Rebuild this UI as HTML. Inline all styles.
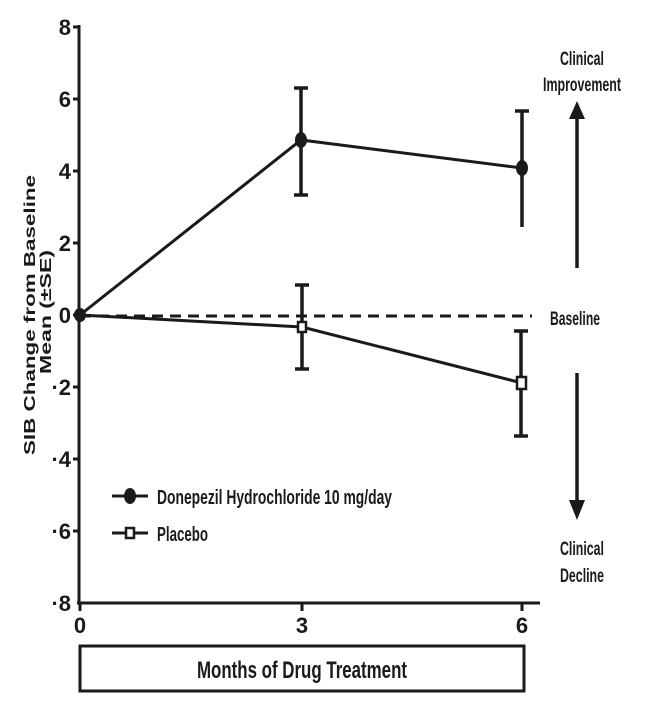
<!DOCTYPE html>
<html><head><meta charset="utf-8"><style>
html,body{margin:0;padding:0;background:#fff;}
svg{display:block;}
text{font-family:"Liberation Sans Narrow","Liberation Sans",sans-serif;font-weight:bold;fill:#1a1a1a;}
</style></head><body>
<svg width="645" height="726" viewBox="0 0 645 726" xmlns="http://www.w3.org/2000/svg">
<g stroke="#1a1a1a" fill="none">
<line x1="79" y1="25" x2="79" y2="604" stroke-width="3"/>
<line x1="77" y1="603" x2="540" y2="603" stroke-width="3"/>
<g stroke-width="3">
<line x1="73" y1="27" x2="79" y2="27"/>
<line x1="73" y1="99" x2="79" y2="99"/>
<line x1="73" y1="171" x2="79" y2="171"/>
<line x1="73" y1="243" x2="79" y2="243"/>
<line x1="73" y1="315" x2="79" y2="315"/>
<line x1="73" y1="387" x2="79" y2="387"/>
<line x1="73" y1="459" x2="79" y2="459"/>
<line x1="73" y1="531" x2="79" y2="531"/>
<line x1="80" y1="603" x2="80" y2="611"/>
<line x1="302" y1="603" x2="302" y2="611"/>
<line x1="522" y1="603" x2="522" y2="611"/>
</g>
<rect x="80" y="646" width="444" height="45" stroke-width="3"/>
<line x1="80" y1="316" x2="532" y2="316" stroke-width="3" stroke-dasharray="11,7"/>
<polyline points="80,315 301,140 522,168" stroke-width="3"/>
<polyline points="80,315 302,327 522,383" stroke-width="3"/>
<g stroke-width="3.5">
<line x1="301" y1="88" x2="301" y2="195"/><line x1="294" y1="88" x2="308" y2="88"/><line x1="294" y1="195" x2="308" y2="195"/>
<line x1="522" y1="111" x2="522" y2="227"/><line x1="515" y1="111" x2="529" y2="111"/>
<line x1="302" y1="285" x2="302" y2="369"/><line x1="295" y1="285" x2="309" y2="285"/><line x1="295" y1="369" x2="309" y2="369"/>
<line x1="521" y1="331" x2="521" y2="436"/><line x1="514" y1="331" x2="528" y2="331"/><line x1="514" y1="436" x2="528" y2="436"/>
</g>
<line x1="112" y1="496" x2="148" y2="496" stroke-width="3"/>
<line x1="112" y1="533" x2="148" y2="533" stroke-width="3"/>
<line x1="577" y1="268" x2="577" y2="115" stroke-width="3.5"/>
<line x1="577" y1="373" x2="577" y2="502" stroke-width="3.5"/>
</g>
<g fill="#1a1a1a">
<ellipse cx="80" cy="315" rx="6" ry="7"/>
<ellipse cx="301" cy="140" rx="6" ry="8"/>
<ellipse cx="522" cy="168" rx="6" ry="8"/>
<ellipse cx="130" cy="496" rx="6" ry="8"/>
<polygon points="577,101 569,119 585,119"/>
<polygon points="577,520 569,500 585,500"/>
</g>
<g fill="#fff" stroke="#1a1a1a" stroke-width="2.5">
<rect x="298" y="322" width="8" height="10"/>
<rect x="517" y="377" width="9" height="12"/>
<rect x="126" y="528" width="8" height="10"/>
</g>
<g font-size="22" text-anchor="end">
<text x="71" y="35">8</text><text x="71" y="107">6</text><text x="71" y="179">4</text><text x="71" y="251">2</text><text x="71" y="323">0</text>
<text x="71" y="395">·2</text><text x="71" y="467">·4</text><text x="71" y="539">·6</text><text x="71" y="611">·8</text>
</g>
<g font-size="22" text-anchor="middle">
<text x="80" y="633">0</text><text x="302" y="633">3</text><text x="522" y="633">6</text>
</g>
<text x="302" y="678" font-size="24" text-anchor="middle" textLength="210" lengthAdjust="spacingAndGlyphs">Months of Drug Treatment</text>
<text x="157" y="504" font-size="20" textLength="235" lengthAdjust="spacingAndGlyphs">Donepezil Hydrochloride 10 mg/day</text>
<text x="157" y="541" font-size="20" textLength="51" lengthAdjust="spacingAndGlyphs">Placebo</text>
<g font-size="19" text-anchor="middle" font-weight="normal">
<text x="582" y="65" textLength="44" lengthAdjust="spacingAndGlyphs">Clinical</text>
<text x="582" y="91" textLength="78" lengthAdjust="spacingAndGlyphs">Improvement</text>
<text x="575" y="325" textLength="50" lengthAdjust="spacingAndGlyphs">Baseline</text>
<text x="582" y="555" textLength="44" lengthAdjust="spacingAndGlyphs">Clinical</text>
<text x="582" y="582" textLength="44" lengthAdjust="spacingAndGlyphs">Decline</text>
</g>
<g font-size="16" text-anchor="middle" style="font-family:'Liberation Sans',sans-serif">
<text transform="translate(35,315) rotate(-90)" textLength="280" lengthAdjust="spacingAndGlyphs">SIB Change from Baseline</text>
<text transform="translate(51,312) rotate(-90)" textLength="124" lengthAdjust="spacingAndGlyphs">Mean (±SE)</text>
</g>
</svg>
</body></html>
